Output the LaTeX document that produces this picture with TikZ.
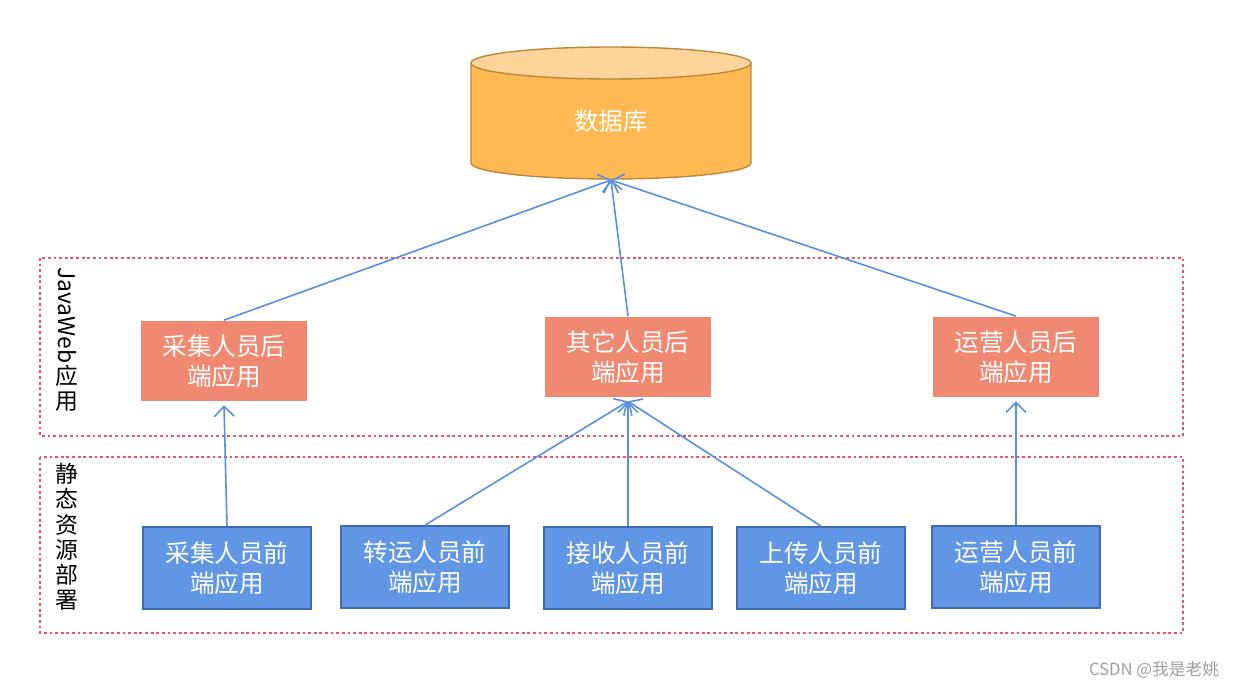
\documentclass[tikz,border=0pt]{standalone}
\usepackage{fontspec}
\setmainfont{Noto Sans CJK SC}
\usepackage{graphicx}
\usepackage{tikz}
\usetikzlibrary{arrows.meta, positioning}
\definecolor{dbbody}{RGB}{255,185,82}
\definecolor{dbtop}{RGB}{254,212,154}
\definecolor{dbedge}{RGB}{190,135,60}
\definecolor{backred}{RGB}{240,137,113}
\definecolor{frontblue}{RGB}{97,150,229}
\definecolor{frontedge}{RGB}{62,108,175}
\definecolor{linkblue}{RGB}{88,142,222}
\definecolor{zonered}{RGB}{233,84,107}
\tikzstyle{arrow} = [-{Straight Barb[length=2mm]}, line width=0.9pt, draw=linkblue]
\tikzstyle{backbox} = [rectangle, minimum width=3.32cm, minimum height=1.62cm,
                       fill=backred, text=white, align=center, font=\fontsize{14}{17}\selectfont]
\tikzstyle{frontbox} = [rectangle, minimum width=3.36cm, minimum height=1.64cm, draw=frontedge,
                        line width=1pt, fill=frontblue, text=white, align=center, font=\fontsize{14}{17}\selectfont]
\tikzstyle{zone} = [draw=zonered, line width=1.2pt, dash pattern=on 1.6pt off 1.6pt]
\tikzstyle{zonelabel} = [anchor=north, align=center, font=\fontsize{13}{14.4}\selectfont]

\begin{document}
\begin{tikzpicture}[x=0.02cm, y=-0.02cm]
    \useasboundingbox (0,0) rectangle (1238,689);

    % Database
    \draw[draw=dbedge, line width=0.8pt, fill=dbbody] (471,63) -- (471,163)
        arc[start angle=180, end angle=360, x radius=2.8cm, y radius=0.32cm] -- (751,63) -- cycle;
    \draw[draw=dbedge, line width=0.8pt, fill=dbtop] (611,63) ellipse [x radius=2.8cm, y radius=0.32cm];
    \node[text=white, font=\fontsize{14}{17}\selectfont] (db) at (611,121) {数据库};
    \coordinate (dbbot) at (611,180);

    % Zones
    \draw[zone] (40,258) rectangle (1183,436);
    \draw[zone] (40,457) rectangle (1183,633);
    \node[zonelabel] (weblabel) at (67,261) {\rotatebox{-90}{JavaWeb}\\应\\用};
    \node[zonelabel] (staticlabel) at (67,457) {静\\态\\资\\源\\部\\署};

    % Backend
    \node[backbox] (collectback) at (224,361) {采集人员后\\端应用};
    \node[backbox] (otherback) at (628,357) {其它人员后\\端应用};
    \node[backbox] (opsback) at (1016,357) {运营人员后\\端应用};

    % Frontend
    \node[frontbox] (collectfront) at (227,568) {采集人员前\\端应用};
    \node[frontbox] (transfront) at (425,567) {转运人员前\\端应用};
    \node[frontbox] (recvfront) at (628,568) {接收人员前\\端应用};
    \node[frontbox] (uploadfront) at (821,568) {上传人员前\\端应用};
    \node[frontbox] (opsfront) at (1016,567) {运营人员前\\端应用};

    % Arrows
    \draw[arrow] (collectback.north) -- (dbbot);
    \draw[arrow] (otherback.north) -- (dbbot);
    \draw[arrow] (opsback.north) -- (dbbot);
    \draw[arrow] (collectfront.north) -- ([yshift=-2pt]collectback.south);
    \draw[arrow] (transfront.north) -- ([yshift=-2pt]otherback.south);
    \draw[arrow] (recvfront.north) -- ([yshift=-2pt]otherback.south);
    \draw[arrow] (uploadfront.north) -- ([yshift=-2pt]otherback.south);
    \draw[arrow] (opsfront.north) -- ([yshift=-2pt]opsback.south);

    \node[text=gray!75, font=\fontsize{9.5}{11}\selectfont] (mark) at (1154,670) {CSDN @我是老姚};
\end{tikzpicture}
\end{document}
